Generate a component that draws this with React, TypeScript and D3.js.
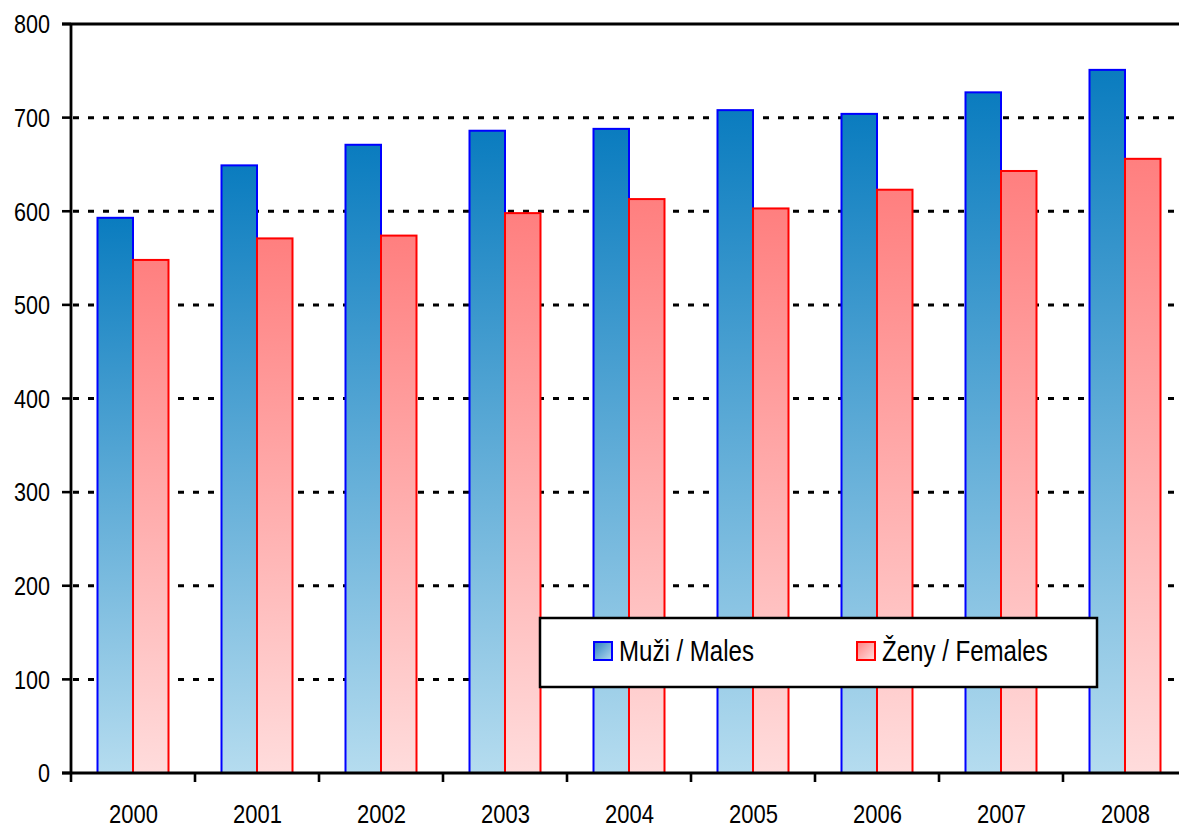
import React from "react";
import * as d3 from "d3";

const years = ["2000", "2001", "2002", "2003", "2004", "2005", "2006", "2007", "2008"];
const males = [593, 649, 671, 686, 688, 708, 704, 727, 751];
const females = [548, 571, 574, 598, 613, 603, 623, 643, 656];
const yTicks = [0, 100, 200, 300, 400, 500, 600, 700, 800];
const seriesNames = ["Muži / Males", "Ženy / Females"];

const W = 1179;
const H = 828;
const left = 71;
const top = 24;
const bottom = 773;
const catW = 124;
const FONT = "'Liberation Sans', Arial, sans-serif";
const SX = 0.83;

function NText(props: { x: number; y: number; size: number; anchor?: string; dy?: string; children: React.ReactNode }) {
  return (
    <text
      transform={`translate(${props.x},${props.y}) scale(${SX},1)`}
      dy={props.dy}
      textAnchor={props.anchor || "start"}
      fontFamily={FONT}
      fontSize={props.size}
      fill="#000"
    >
      {props.children}
    </text>
  );
}

export default function App() {
  const x = d3.scaleBand<string>().domain(years).range([left, left + catW * years.length]).padding(0);
  const inner = d3.scaleBand<string>().domain(["m", "f"]).range([26.5, 97.5]).padding(0);
  const y = d3.scaleLinear().domain([0, 800]).range([bottom, top]);

  const series = [
    { key: "m", values: males, stroke: "#0000ff", grad: "url(#gBlue)" },
    { key: "f", values: females, stroke: "#ff0000", grad: "url(#gRed)" },
  ];

  return (
    <svg width={W} height={H} style={{ position: "absolute", left: 0, top: 0, background: "#fff" }}>
      <defs>
        <linearGradient id="gBlue" x1="0" y1="0" x2="0" y2="1">
          <stop offset="0" stopColor="#0a7cbf" />
          <stop offset="1" stopColor="#b5dcef" />
        </linearGradient>
        <linearGradient id="gRed" x1="0" y1="0" x2="0" y2="1">
          <stop offset="0" stopColor="#ff7f7f" />
          <stop offset="1" stopColor="#ffdcdc" />
        </linearGradient>
        <linearGradient id="gBlueL" x1="0" y1="0" x2="1" y2="1">
          <stop offset="0" stopColor="#2b7fc0" />
          <stop offset="1" stopColor="#b5dcef" />
        </linearGradient>
        <linearGradient id="gRedL" x1="0" y1="0" x2="1" y2="1">
          <stop offset="0" stopColor="#ff8080" />
          <stop offset="1" stopColor="#ffe0e0" />
        </linearGradient>
      </defs>

      {/* gridlines */}
      {yTicks.filter((t) => t > 0 && t < 800).map((t) => (
        <line key={t} x1={left + 2} x2={W} y1={y(t)} y2={y(t)} stroke="#000" strokeWidth={3} strokeDasharray="6 9" />
      ))}
      <line x1={left - 9} x2={W} y1={y(800)} y2={y(800)} stroke="#000" strokeWidth={2.8} />

      {/* bars */}
      {series.map((s) =>
        years.map((yr, i) => (
          <rect
            key={s.key + yr}
            x={(x(yr) as number) + (inner(s.key) as number)}
            y={y(s.values[i])}
            width={inner.bandwidth()}
            height={bottom - y(s.values[i])}
            fill={s.grad}
            stroke={s.stroke}
            strokeWidth={2}
          />
        ))
      )}

      {/* y axis */}
      <line x1={left} x2={left} y1={top} y2={bottom} stroke="#000" strokeWidth={2.8} />
      {yTicks.map((t) => (
        <g key={t}>
          <line x1={left - 9} x2={left} y1={y(t)} y2={y(t)} stroke="#000" strokeWidth={2.6} />
          <NText x={50} y={y(t)} dy="0.36em" anchor="end" size={26}>
            {t}
          </NText>
        </g>
      ))}

      {/* x axis */}
      <line x1={left - 9} x2={W} y1={bottom} y2={bottom} stroke="#000" strokeWidth={2.8} />
      {years.map((yr) => (
        <line key={"t" + yr} x1={x(yr) as number} x2={x(yr) as number} y1={bottom} y2={bottom + 9} stroke="#000" strokeWidth={2.6} />
      ))}
      {years.map((yr) => (
        <NText key={"l" + yr} x={(x(yr) as number) + x.bandwidth() / 2 + 0.5} y={823} anchor="middle" size={26.5}>
          {yr}
        </NText>
      ))}

      {/* legend */}
      <rect x={540} y={618} width={557} height={69} fill="#fff" stroke="#000" strokeWidth={2.5} />
      <rect x={594} y={642} width={18} height={18} fill="url(#gBlueL)" stroke="#0000ff" strokeWidth={2} />
      <NText x={619} y={661} size={29}>{seriesNames[0]}</NText>
      <rect x={857} y={642} width={18} height={18} fill="url(#gRedL)" stroke="#ff0000" strokeWidth={2} />
      <NText x={882} y={661} size={29}>{seriesNames[1]}</NText>
    </svg>
  );
}
